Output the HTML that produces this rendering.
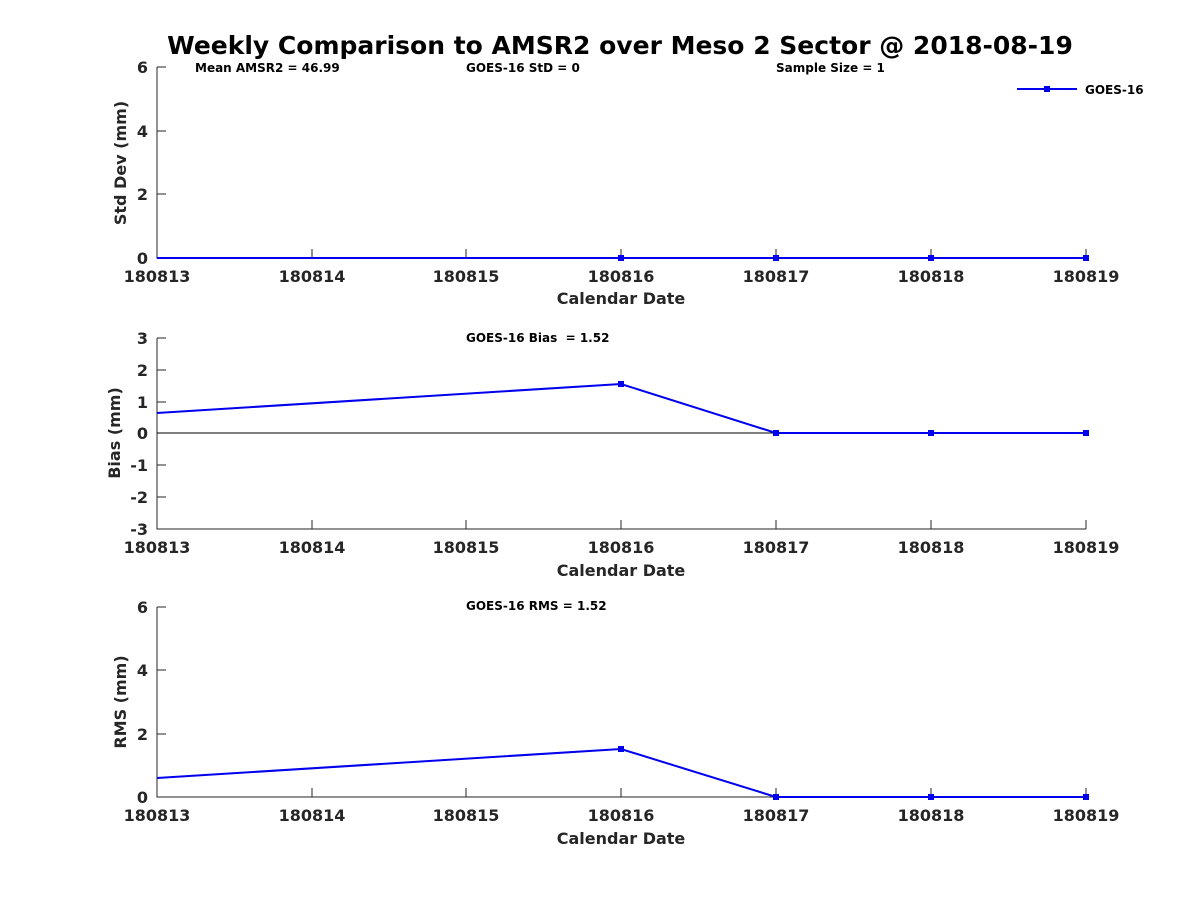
<!DOCTYPE html><html><head><style>body{margin:0;background:#fff}svg{display:block}text{font-family:"DejaVu Sans",sans-serif;font-weight:bold;fill:#262626}</style></head><body>
<svg width="1200" height="900" viewBox="0 0 1200 900" xmlns="http://www.w3.org/2000/svg">
<text x="620" y="54" font-size="25" text-anchor="middle" style="fill:#000">Weekly Comparison to AMSR2 over Meso 2 Sector @ 2018-08-19</text>
<g stroke="#262626" stroke-width="1" fill="none">
<path d="M157 67V258H1086"/>
<path d="M157 338V529H1086"/>
<path d="M157 607V797H1086"/>
<path d="M312 258v-9M466 258v-9M621 258v-9M776 258v-9M931 258v-9M1086 258v-9"/>
<path d="M312 529v-9M466 529v-9M621 529v-9M776 529v-9M931 529v-9M1086 529v-9"/>
<path d="M312 797v-9M466 797v-9M621 797v-9M776 797v-9M931 797v-9M1086 797v-9"/>
<path d="M157 67h9M157 131h9M157 194h9"/>
<path d="M157 338h9M157 370h9M157 402h9M157 433h9M157 465h9M157 497h9"/>
<path d="M157 607h9M157 670h9M157 734h9"/>
<path d="M157 433H1086" stroke="#000"/>
</g>
<g font-size="16" text-anchor="end">
<text x="148" y="73">6</text><text x="148" y="137">4</text><text x="148" y="200">2</text><text x="148" y="264">0</text>
<text x="148" y="344">3</text><text x="148" y="376">2</text><text x="148" y="408">1</text><text x="148" y="439">0</text><text x="148" y="471">-1</text><text x="148" y="503">-2</text><text x="148" y="535">-3</text>
<text x="148" y="613">6</text><text x="148" y="676">4</text><text x="148" y="740">2</text><text x="148" y="803">0</text>
</g>
<g font-size="16" text-anchor="middle">
<g id="xl"><text x="157" y="282">180813</text><text x="312" y="282">180814</text><text x="466" y="282">180815</text><text x="621" y="282">180816</text><text x="776" y="282">180817</text><text x="931" y="282">180818</text><text x="1086" y="282">180819</text></g>
<text x="621" y="304">Calendar Date</text>
<use href="#xl" y="271"/><text x="621" y="576">Calendar Date</text>
<use href="#xl" y="539"/><text x="621" y="844">Calendar Date</text>
<text transform="translate(126 163) rotate(-90)">Std Dev (mm)</text>
<text transform="translate(120 433) rotate(-90)">Bias (mm)</text>
<text transform="translate(126 702) rotate(-90)">RMS (mm)</text>
</g>
<g font-size="12" style="fill:#000">
<text x="195" y="72" style="fill:#000">Mean AMSR2 = 46.99</text><text x="466" y="72" style="fill:#000">GOES-16 StD = 0</text><text x="776" y="72" style="fill:#000">Sample Size = 1</text>
<text x="466" y="342" style="fill:#000">GOES-16 Bias &#160;= 1.52</text><text x="466" y="610" style="fill:#000">GOES-16 RMS = 1.52</text>
<text x="1085" y="94" style="fill:#000">GOES-16</text>
</g>
<g stroke="#0000ee" stroke-width="2" fill="none">
<path d="M1017 89H1077"/>
<path d="M157 258H1086"/>
<path d="M157 413L621 384L776 433H1086"/>
<path d="M157 778L621 749L776 797H1086"/>
</g>
<g fill="#0000ee">
<rect x="1044" y="86" width="6" height="6"/>
<rect x="618" y="255" width="6" height="6"/><rect x="773" y="255" width="6" height="6"/><rect x="928" y="255" width="6" height="6"/><rect x="1083" y="255" width="6" height="6"/>
<rect x="618" y="381" width="6" height="6"/><rect x="773" y="430" width="6" height="6"/><rect x="928" y="430" width="6" height="6"/><rect x="1083" y="430" width="6" height="6"/>
<rect x="618" y="746" width="6" height="6"/><rect x="773" y="794" width="6" height="6"/><rect x="928" y="794" width="6" height="6"/><rect x="1083" y="794" width="6" height="6"/>
</g>
</svg></body></html>
